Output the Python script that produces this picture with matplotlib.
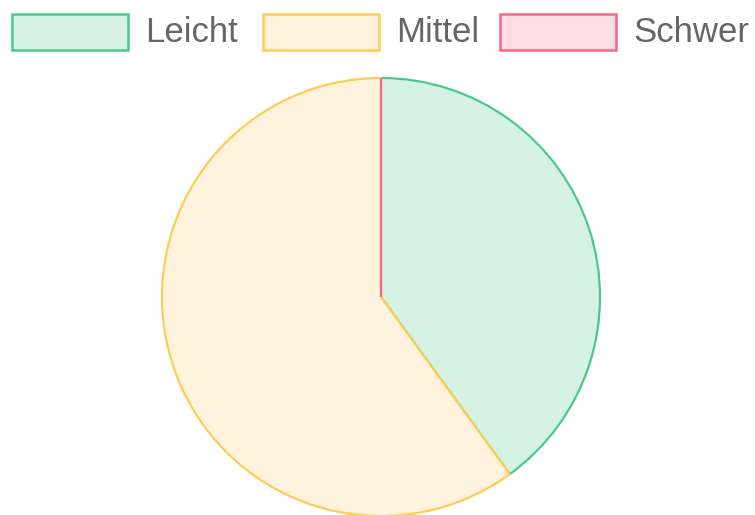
import matplotlib
matplotlib.use("Agg")
import matplotlib.pyplot as plt
from matplotlib.patches import Rectangle

labels = ["Leicht", "Mittel", "Schwer"]
values = [2, 3, 0]
fill_colors = ["#d6f2e3", "#fff3de", "#ffdee4"]
edge_colors = ["#4cc88c", "#ffcd56", "#ff6384"]

plt.rcParams['font.family'] = ['Liberation Sans', 'DejaVu Sans']

W, H = 755, 515
fig = plt.figure(figsize=(W / 100, H / 100), dpi=100)

cx, cy, r = 381, 297, 219
ax = fig.add_axes([(cx - r) / W, (H - cy - r) / H, 2 * r / W, 2 * r / H])
wedges, _ = ax.pie(values, colors=fill_colors, startangle=90, counterclock=False,
                   radius=1, wedgeprops=dict(linewidth=1.6))
for w, ec in zip(wedges, edge_colors):
    w.set_edgecolor(ec)
    w.set_clip_on(False)
ax.set_xlim(-1, 1)
ax.set_ylim(-1, 1)
ax.set_aspect('auto')
ax.axis('off')

# legend
box_x = [12, 263, 500]
box_w, box_top, box_h = 116, 14, 36
for i, lab in enumerate(labels):
    x0 = box_x[i]
    rect = Rectangle((x0 / W, (H - box_top - box_h) / H), box_w / W, box_h / H,
                     transform=fig.transFigure, facecolor=fill_colors[i],
                     edgecolor=edge_colors[i], linewidth=1.8)
    fig.patches.append(rect)
    fig.text((x0 + box_w + 17) / W, (H - box_top - box_h / 2) / H, lab,
             fontsize=25, color="#666666", va='center', ha='left')

fig.savefig("out.png", dpi=100)
